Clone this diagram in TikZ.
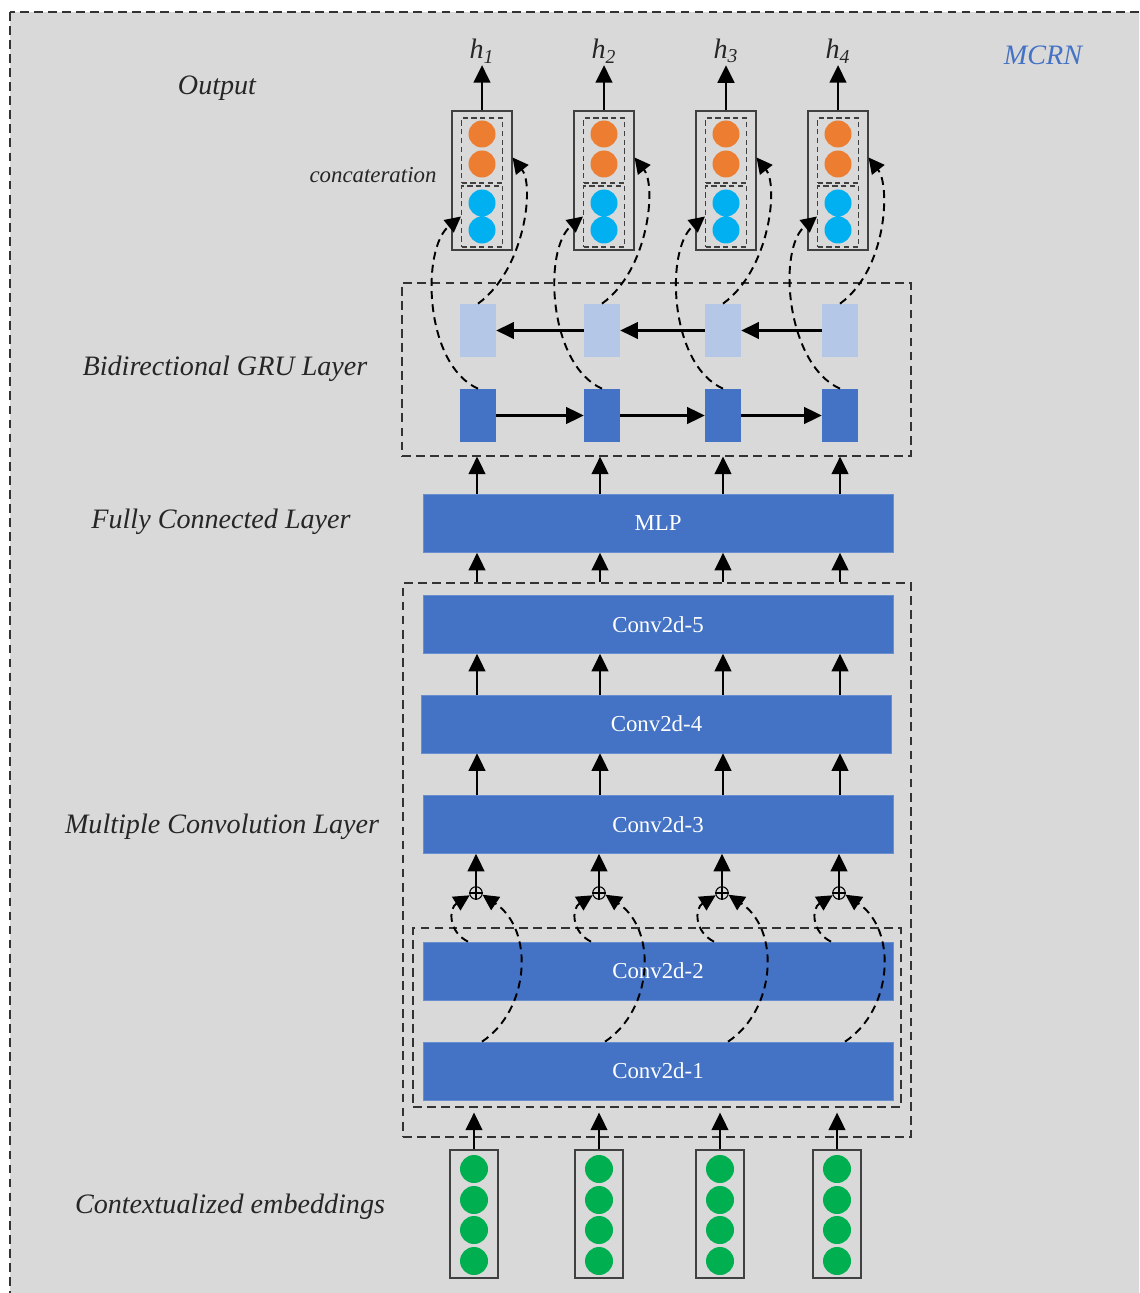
\documentclass[tikz,border=0pt]{standalone}
\usepackage{fontspec}
\setmainfont{Liberation Serif}
\usetikzlibrary{arrows.meta}

\begin{document}
\begin{tikzpicture}[x=0.02cm, y=-0.02cm,
    lbl/.style={font=\itshape\fontsize{16}{19}\selectfont, text=black!85},
    convlayer/.style={fill=convBlue, draw=convBlue!80!white, line width=0.4pt, minimum width=9.4cm, minimum height=1.16cm, inner sep=0pt, text=white, font=\fontsize{13}{15}\selectfont},
    dashframe/.style={draw=black!80, dash pattern=on 5pt off 3pt, line width=0.7pt, inner sep=0pt},
    grufwd/.style={fill=convBlue, minimum width=0.72cm, minimum height=1.06cm, inner sep=0pt},
    grubwd/.style={fill=lightBlue, minimum width=0.72cm, minimum height=1.06cm, inner sep=0pt},
    vecbox/.style={draw=black!75, line width=0.6pt, inner sep=0pt},
    halfbox/.style={draw=black!75, dash pattern=on 3pt off 2pt, line width=0.6pt, inner sep=0pt, minimum width=0.82cm},
    arr/.style={-{Triangle[length=10pt,width=9.5pt]}, line width=1.4pt},
    skipcurve/.style={dash pattern=on 4.5pt off 3pt, line width=1.1pt, -{Triangle[length=9pt,width=9pt]}},
    oplus/.style={circle, draw, line width=0.6pt, minimum size=0.25cm, inner sep=0pt}]
    \definecolor{bgGray}{HTML}{D9D9D9}
    \definecolor{convBlue}{HTML}{4472C4}
    \definecolor{lightBlue}{HTML}{B4C7E7}
    \definecolor{outOrange}{HTML}{ED7D31}
    \definecolor{outCyan}{HTML}{00B0F0}
    \definecolor{embGreen}{HTML}{00B050}

    \useasboundingbox (0,0) rectangle (1139,1293);
    \clip (0,0) rectangle (1139,1293);

    % Background frame
    \draw[fill=bgGray, draw=black!80, dash pattern=on 5pt off 3pt, line width=0.8pt] (10,12) rectangle (1160,1310);
    \node[lbl, text=convBlue] (mcrn) at (1043,55) {MCRN};

    % Layer names
    \node[lbl] (outlbl) at (217,88) {Output};
    \node[lbl, font=\itshape\fontsize{13}{15}\selectfont] (catlbl) at (373,175) {concateration};
    \node[lbl] (grulbl) at (225,369) {Bidirectional GRU Layer};
    \node[lbl] (fclbl) at (221,522) {Fully Connected Layer};
    \node[lbl] (convlbl) at (222,827) {Multiple Convolution Layer};
    \node[lbl] (emblbl) at (230,1207) {Contextualized embeddings};

    % Dashed groups
    \node[dashframe, minimum width=10.18cm, minimum height=3.46cm] (gru) at (656.5,369.5) {};
    \node[dashframe, minimum width=10.16cm, minimum height=11.08cm] (convbox) at (657,860) {};
    \node[dashframe, minimum width=9.76cm, minimum height=3.58cm] (resbox) at (657,1017.5) {};

    % Blocks
    \node[convlayer] (mlp) at (658,523.5) {MLP};
    \node[convlayer] (conv5) at (658,624.5) {Conv2d-5};
    \node[convlayer] (conv4) at (656.5,724) {Conv2d-4};
    \node[convlayer] (conv3) at (658,824.5) {Conv2d-3};
    \node[convlayer] (conv2) at (658,971) {Conv2d-2};
    \node[convlayer] (conv1) at (658,1071) {Conv2d-1};

    % Contextualized embeddings
    \foreach \i/\x in {1/474,2/599,3/720,4/837} {
        \node[vecbox, minimum width=0.96cm, minimum height=2.56cm] (e\i) at (\x,1214) {};
        \foreach \y in {1169,1200,1230,1261}
            \fill[embGreen] (\x,\y) circle (0.28cm);
        \draw[arr] (e\i.north) -- ([yshift=-0.1cm]resbox.south -| e\i.north);
    }

    % Residual sums
    \foreach \i/\x in {1/476,2/599,3/722,4/839} {
        \node[oplus] (p\i) at (\x,893) {};
        \draw[line width=0.6pt] (p\i.north) -- (p\i.south) (p\i.west) -- (p\i.east);
        \draw[arr] (p\i.north) -- (conv3.south -| p\i);
        \draw[skipcurve] ([xshift=0.12cm]conv1.north -| p\i) .. controls +(48,-32) and +(52,35) .. (p\i.-15);
        \draw[skipcurve] ([xshift=-0.16cm]conv2.north -| p\i) .. controls +(-20,-10) and +(-21,13) .. (p\i.200);
    }

    % Arrows between layers
    \foreach \i/\x in {1/477,2/600,3/723,4/840} {
        \coordinate (c\i) at (\x,0);
        \draw[arr] (conv3.north -| c\i) -- (conv4.south -| c\i);
        \draw[arr] (conv4.north -| c\i) -- (conv5.south -| c\i);
        \draw[arr] (convbox.north -| c\i) -- (mlp.south -| c\i);
        \draw[arr] (mlp.north -| c\i) -- (gru.south -| c\i);
    }

    % GRU cells
    \foreach \i/\x in {1/478,2/602,3/723,4/840} {
        \node[grufwd] (f\i) at (\x,415.5) {};
        \node[grubwd] (b\i) at (\x,330.5) {};
    }
    \foreach \i/\j in {1/2,2/3,3/4} {
        \draw[arr] (f\i.east) -- (f\j.west);
        \draw[arr] (b\j.west) -- (b\i.east);
    }

    % Output vectors
    \foreach \i/\x in {1/482,2/604,3/726,4/838} {
        \node[vecbox, minimum width=1.2cm, minimum height=2.78cm] (o\i) at (\x,180.5) {};
        \node[halfbox, minimum height=1.3cm] (oa\i) at (\x,150.5) {};
        \node[halfbox, minimum height=1.22cm] (ob\i) at (\x,216.5) {};
        \fill[outOrange] (\x,134) circle (0.27cm) (\x,164) circle (0.27cm);
        \fill[outCyan] (\x,203) circle (0.27cm) (\x,230) circle (0.27cm);
        \node[lbl, inner sep=1pt] (h\i) at (\x,51) {h\textsubscript{\i}};
        \draw[arr] (o\i.north) -- (h\i.south);
        \draw[skipcurve] (f\i.north) .. controls +(-54,-24) and +(-40,32) .. (ob\i.west);
        \draw[skipcurve] (b\i.north) .. controls +(47,-34) and +(22,28) .. ([yshift=0.46cm]o\i.east);
    }

\end{tikzpicture}
\end{document}
